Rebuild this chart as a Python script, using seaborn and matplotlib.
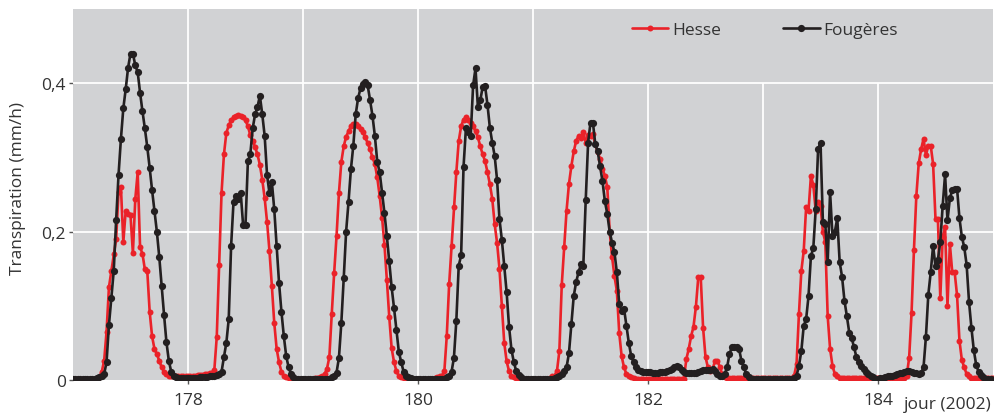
import numpy as np
import pandas as pd
import matplotlib
matplotlib.use("Agg")
import matplotlib.pyplot as plt
import seaborn as sns

# half-hourly transpiration (mm/h), one list of 48 values per day (jour 177 .. 184)
hesse_177 = [0.002] * 11 + [0.004, 0.011, 0.026, 0.065, 0.125, 0.147, 0.17, 0.19, 0.253, 0.26,
             0.186, 0.228, 0.224, 0.222, 0.171, 0.244, 0.28, 0.179, 0.17, 0.149, 0.147, 0.092,
             0.059, 0.042, 0.035, 0.026, 0.017, 0.011, 0.008] + [0.006] * 8
hesse_178 = [0.006, 0.006, 0.006, 0.006, 0.007, 0.007, 0.007, 0.008, 0.008, 0.009,
             0.01, 0.014, 0.058, 0.155, 0.252, 0.304, 0.333, 0.343, 0.35, 0.354, 0.356, 0.357,
             0.356, 0.354, 0.35, 0.342, 0.33, 0.322, 0.314, 0.304, 0.29, 0.27, 0.245, 0.213,
             0.174, 0.127, 0.077, 0.042, 0.024, 0.011, 0.006, 0.004, 0.003] + [0.002] * 5
hesse_179 = [0.002, 0.002, 0.002, 0.002, 0.002, 0.003, 0.003, 0.004, 0.005,
             0.008, 0.015, 0.031, 0.089, 0.144, 0.194, 0.252, 0.294, 0.315, 0.328, 0.335, 0.342,
             0.345, 0.345, 0.342, 0.338, 0.334, 0.327, 0.319, 0.311, 0.30, 0.291, 0.273, 0.248,
             0.219, 0.182, 0.135, 0.085, 0.043, 0.024, 0.012, 0.005, 0.004, 0.003, 0.003] + [0.002] * 4
hesse_180 = [0.002] * 7 + [0.003, 0.004, 0.005,
             0.006, 0.012, 0.059, 0.129, 0.18, 0.233, 0.28, 0.322, 0.342, 0.351, 0.354, 0.35,
             0.347, 0.342, 0.335, 0.327, 0.315, 0.304, 0.295, 0.28, 0.264, 0.244, 0.21, 0.185,
             0.15, 0.10, 0.05, 0.025, 0.012, 0.006, 0.004, 0.003, 0.002, 0.002] + [0.001] * 4
hesse_181 = [0.001] * 6 + [0.002, 0.003, 0.005,
             0.006, 0.012, 0.039, 0.128, 0.179, 0.228, 0.264, 0.288, 0.308, 0.322, 0.329, 0.326,
             0.334, 0.32, 0.33, 0.329, 0.331, 0.318, 0.307, 0.298, 0.285, 0.275, 0.26, 0.2, 0.166,
             0.14, 0.12, 0.063, 0.032, 0.017, 0.008, 0.005, 0.004, 0.003] + [0.002] * 5
hesse_182 = [0.002] * 16 + [0.028, 0.042, 0.059, 0.072, 0.099, 0.139, 0.139, 0.07, 0.031, 0.017,
             0.012, 0.015, 0.026, 0.026, 0.017, 0.008, 0.004] + [0.003] * 15
hesse_183 = [0.003] * 13 + [0.006, 0.021, 0.089, 0.147, 0.174, 0.233, 0.228, 0.275, 0.263, 0.228,
             0.24, 0.235, 0.2, 0.186, 0.086, 0.042, 0.019, 0.008, 0.005] + [0.003] * 16
hesse_184 = [0.003] * 12 + [0.006, 0.03, 0.09, 0.175, 0.248, 0.292, 0.311, 0.325, 0.303, 0.316,
             0.316, 0.291, 0.217, 0.217, 0.11, 0.193, 0.206, 0.1, 0.183, 0.145, 0.145, 0.114,
             0.053, 0.027, 0.017, 0.008, 0.005] + [0.003] * 9

fougeres_177 = [0.002] * 10 + [0.003, 0.004, 0.005, 0.008,
                0.024, 0.074, 0.11, 0.147, 0.215, 0.276, 0.325, 0.366, 0.392, 0.421, 0.44, 0.44,
                0.424, 0.415, 0.387, 0.362, 0.339, 0.314, 0.286, 0.256, 0.228, 0.2, 0.166, 0.127,
                0.088, 0.051, 0.026, 0.011, 0.006, 0.004] + [0.003] * 4
fougeres_178 = [0.003, 0.003, 0.003, 0.003, 0.003, 0.004, 0.004, 0.004, 0.004, 0.005, 0.005,
                0.006, 0.007, 0.008, 0.011, 0.031, 0.05, 0.082, 0.181, 0.24, 0.248, 0.244, 0.252,
                0.209, 0.209, 0.295, 0.304, 0.339, 0.358, 0.368, 0.383, 0.358, 0.329, 0.276, 0.252,
                0.267, 0.23, 0.181, 0.131, 0.092, 0.059, 0.032, 0.017, 0.008, 0.004, 0.002, 0.001, 0.001]
fougeres_179 = [0.001] * 11 + [0.002, 0.004,
                0.006, 0.01, 0.03, 0.077, 0.137, 0.2, 0.24, 0.284, 0.316, 0.358, 0.38, 0.393, 0.399,
                0.401, 0.397, 0.377, 0.356, 0.329, 0.294, 0.28, 0.252, 0.225, 0.194, 0.16, 0.125,
                0.097, 0.067, 0.038, 0.024, 0.011, 0.006, 0.004, 0.003, 0.002, 0.001]
fougeres_180 = [0.001] * 11 + [0.002, 0.004,
                0.006, 0.011, 0.03, 0.08, 0.154, 0.168, 0.287, 0.339, 0.334, 0.329, 0.397, 0.42,
                0.368, 0.377, 0.395, 0.396, 0.371, 0.34, 0.32, 0.302, 0.27, 0.217, 0.189, 0.154,
                0.118, 0.072, 0.041, 0.024, 0.012, 0.007, 0.004, 0.002, 0.001, 0.001, 0.001]
fougeres_181 = [0.001] * 8 + [0.002, 0.003, 0.004, 0.006, 0.008, 0.012,
                0.017, 0.036, 0.075, 0.113, 0.132, 0.145, 0.156, 0.154, 0.242, 0.32, 0.347, 0.347,
                0.318, 0.308, 0.288, 0.268, 0.241, 0.224, 0.2, 0.185, 0.172, 0.145, 0.102, 0.093,
                0.096, 0.073, 0.05, 0.032, 0.024, 0.018, 0.014, 0.012, 0.011, 0.011]
fougeres_182 = [0.011, 0.011, 0.01, 0.01, 0.01, 0.011, 0.011, 0.011, 0.012, 0.013, 0.015, 0.017,
                0.019, 0.018, 0.014, 0.011, 0.009, 0.009, 0.009, 0.009, 0.01, 0.011, 0.012, 0.013,
                0.013, 0.014, 0.014, 0.015, 0.012, 0.008, 0.006, 0.006, 0.008, 0.017, 0.035, 0.044,
                0.044, 0.044, 0.042, 0.026, 0.017, 0.008, 0.004, 0.002, 0.001, 0.001, 0.001, 0.001]
fougeres_183 = [0.001] * 13 + [0.003, 0.006, 0.019, 0.039, 0.073, 0.082, 0.113, 0.167, 0.178, 0.23,
                0.311, 0.32, 0.213, 0.21, 0.159, 0.253, 0.194, 0.2, 0.218, 0.159, 0.139, 0.107,
                0.086, 0.064, 0.057, 0.044, 0.031, 0.024, 0.019, 0.015, 0.011, 0.008, 0.006, 0.004, 0.002]
fougeres_184 = [0.002, 0.003, 0.003, 0.004, 0.005, 0.005, 0.006, 0.007, 0.008, 0.009, 0.01, 0.011,
                0.012, 0.012, 0.011, 0.01, 0.009, 0.008, 0.009, 0.017, 0.058, 0.115, 0.145, 0.181,
                0.153, 0.162, 0.186, 0.235, 0.277, 0.215, 0.245, 0.256, 0.257, 0.258, 0.218, 0.193,
                0.179, 0.155, 0.105, 0.07, 0.04, 0.02, 0.011, 0.007, 0.004, 0.002, 0.001, 0.001]

# last reading at the start of jour 185
hesse_end = [0.003]
fougeres_end = [0.0]

first_day = 177
steps_per_day = 48
x_ticks = [178, 180, 182, 184]
y_ticks = [0, 0.2, 0.4]
y_tick_labels = ["0", "0,2", "0,4"]

hesse = (hesse_177 + hesse_178 + hesse_179 + hesse_180 + hesse_181 + hesse_182
         + hesse_183 + hesse_184 + hesse_end)
fougeres = (fougeres_177 + fougeres_178 + fougeres_179 + fougeres_180 + fougeres_181
            + fougeres_182 + fougeres_183 + fougeres_184 + fougeres_end)

jour = first_day + np.arange(len(hesse)) / steps_per_day
df = pd.DataFrame({"jour": jour, "Hesse": hesse, "Fougères": fougeres})

sns.set_theme(style="white")
plt.rcParams["font.family"] = ["Open Sans", "DejaVu Sans"]

red = "#ea2229"
black = "#231f20"
bg = "#d1d2d4"
txt = "#333333"

fig = plt.figure(figsize=(10.03, 4.14), dpi=100)
ax = fig.add_axes([73 / 1003, 1 - 381 / 414, 920 / 1003, 371 / 414])
ax.set_facecolor(bg)
for s in ax.spines.values():
    s.set_visible(False)

ax.set_xlim(177, 185)
ax.set_ylim(0, 0.5)

# white grid; upper-right part is hidden behind the legend area
for d in range(178, 185):
    top = 0.5 if d <= 181 else 0.4
    ax.vlines(d, 0, top, color="white", lw=1.3, zorder=1)
for yv in y_ticks[1:]:
    ax.axhline(yv, color="white", lw=1.3, zorder=1)

sns.lineplot(data=df, x="jour", y="Hesse", ax=ax, color=red, lw=1.9, marker="o",
             markersize=4.3, markeredgewidth=0, estimator=None, label="Hesse", zorder=3)
sns.lineplot(data=df, x="jour", y="Fougères", ax=ax, color=black, lw=1.9, marker="o",
             markersize=5.2, markeredgewidth=0, estimator=None, label="Fougères", zorder=4)

ax.set_xticks(x_ticks)
ax.set_xticklabels([str(t) for t in x_ticks])
ax.set_yticks(y_ticks)
ax.set_yticklabels(y_tick_labels)
ax.tick_params(axis="both", which="both", length=3, width=1, color="#555555",
               labelsize=12.5, labelcolor=txt, direction="out")
ax.tick_params(axis="x", pad=6)
ax.tick_params(axis="y", pad=2)
ax.xaxis.set_ticks_position("bottom")
ax.yaxis.set_ticks_position("left")

ax.set_xlabel("")
ax.set_ylabel("Transpiration (mm/h)", fontsize=12.5, color=txt)
ax.yaxis.set_label_coords(-0.051, 0.52)
fig.text(992 / 1003, 1 - 405 / 414, "jour (2002)", ha="right", va="center",
         fontsize=12.5, color=txt)

leg = ax.legend(loc="center left", bbox_to_anchor=(0.600, 0.943), ncol=2, frameon=False,
                fontsize=12.5, handlelength=2.1, handletextpad=0.2, columnspacing=3.6,
                borderaxespad=0)
for t in leg.get_texts():
    t.set_color(txt)

fig.savefig("out.png", dpi=100)
